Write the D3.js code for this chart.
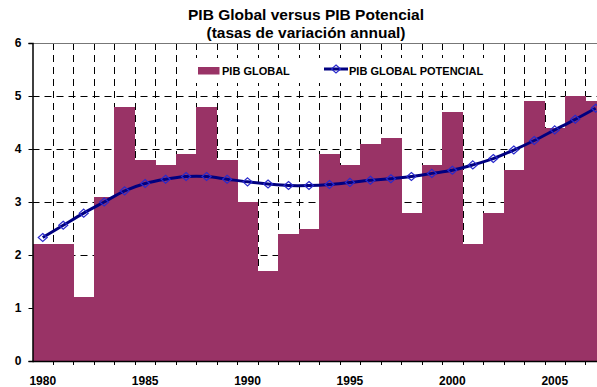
<!DOCTYPE html>
<html>
<head>
<meta charset="utf-8">
<script src="https://cdn.jsdelivr.net/npm/d3@7"></script>
<style>
  html, body { margin: 0; padding: 0; background: #fff; }
  svg { display: block; font-family: "Liberation Sans", Arial, sans-serif; }
</style>
</head>
<body>
<svg id="chart" width="597" height="387"></svg>
<script>
// Annual GDP growth vs potential GDP growth (%)
const years = [1980, 1981, 1982, 1983, 1984, 1985, 1986, 1987, 1988, 1989,
               1990, 1991, 1992, 1993, 1994, 1995, 1996, 1997, 1998, 1999,
               2000, 2001, 2002, 2003, 2004, 2005, 2006, 2007];
const pibGlobal = [2.2, 2.2, 1.2, 3.1, 4.8, 3.8, 3.7, 3.9, 4.8, 3.8,
                   3.0, 1.7, 2.4, 2.5, 3.9, 3.7, 4.1, 4.2, 2.8, 3.7,
                   4.7, 2.2, 2.8, 3.6, 4.9, 4.4, 5.0, 4.9];
const pibPotencial = [2.33, 2.56, 2.79, 3.0, 3.21, 3.35, 3.43, 3.48, 3.48, 3.43,
                      3.38, 3.34, 3.31, 3.31, 3.33, 3.37, 3.41, 3.44, 3.48, 3.54,
                      3.60, 3.70, 3.82, 3.98, 4.16, 4.36, 4.56, 4.77];
const yTicks = [0, 1, 2, 3, 4, 5, 6];
const labelYears = [1980, 1985, 1990, 1995, 2000, 2005];
const seriesNames = ["PIB GLOBAL", "PIB GLOBAL POTENCIAL"];
const titleLines = ["PIB Global versus PIB Potencial", "(tasas de variación annual)"];

const barColor = "#993366";
const lineColor = "#000080";
const markerColor = "#2a2acc";

// Open diamond marker, a little wider than tall
const diamond = "M0,-4L4.5,0L0,4L-4.5,0Z";

const svg = d3.select("#chart");
const plot = { left: 32.5, top: 43, bottom: 361, step: 20.48 };

const x = d3.scaleBand()
  .domain(years)
  .range([plot.left, plot.left + plot.step * years.length])
  .padding(0);
const y = d3.scaleLinear().domain([0, 6]).range([plot.bottom, plot.top]);
const xRight = plot.left + plot.step * years.length;

// Title
svg.append("g").selectAll("text")
  .data(titleLines)
  .join("text")
  .attr("x", 306)
  .attr("y", (d, i) => 20 + i * 18)
  .attr("text-anchor", "middle")
  .attr("font-size", 15.5)
  .attr("font-weight", "bold")
  .attr("fill", "#000")
  .text(d => d);

// Gridlines (dashed), behind the bars
const grid = svg.append("g").attr("stroke", "#000").attr("stroke-width", 1)
  .attr("stroke-dasharray", "7,5");
grid.selectAll("line.v")
  .data(years.slice(1))
  .join("line")
  .attr("class", "v")
  .attr("x1", d => Math.round(x(d)) + 0.5)
  .attr("x2", d => Math.round(x(d)) + 0.5)
  .attr("y1", plot.top)
  .attr("y2", plot.bottom);
grid.selectAll("line.h")
  .data(yTicks.filter(t => t > 0 && t < 6))
  .join("line")
  .attr("class", "h")
  .attr("x1", plot.left)
  .attr("x2", xRight)
  .attr("y1", d => Math.round(y(d)) + 0.5)
  .attr("y2", d => Math.round(y(d)) + 0.5);

// Top border of plot area
svg.append("line")
  .attr("x1", plot.left).attr("x2", xRight)
  .attr("y1", plot.top + 0.5).attr("y2", plot.top + 0.5)
  .attr("stroke", "#777").attr("stroke-width", 1);

// Legend box (white background covers the grid)
const legend = svg.append("g");
legend.append("rect")
  .attr("x", 188).attr("y", 58).attr("width", 312).attr("height", 25)
  .attr("fill", "#fff");
legend.append("rect")
  .attr("x", 198).attr("y", 67).attr("width", 21.5).attr("height", 7.5)
  .attr("fill", barColor);
legend.append("text")
  .attr("x", 222).attr("y", 75)
  .attr("font-size", 11).attr("font-weight", "bold")
  .text(seriesNames[0]);
legend.append("line")
  .attr("x1", 324).attr("x2", 348).attr("y1", 69).attr("y2", 69)
  .attr("stroke", lineColor).attr("stroke-width", 3);
legend.append("path")
  .attr("d", diamond)
  .attr("transform", "translate(336,69)")
  .attr("fill", "none").attr("stroke", markerColor).attr("stroke-width", 1.2);
legend.append("text")
  .attr("x", 349).attr("y", 75)
  .attr("font-size", 11).attr("font-weight", "bold")
  .text(seriesNames[1]);

// Bars
svg.append("g").selectAll("rect")
  .data(years.map((yr, i) => ({ yr, v: pibGlobal[i] })))
  .join("rect")
  .attr("x", d => x(d.yr))
  .attr("width", x.bandwidth() + 0.4)
  .attr("y", d => y(d.v))
  .attr("height", d => y(0) - y(d.v))
  .attr("fill", barColor)
  .attr("shape-rendering", "crispEdges");

// Potential GDP line
const pts = years.map((yr, i) => ({ yr, v: pibPotencial[i] }));
const line = d3.line()
  .x(d => x(d.yr) + x.bandwidth() / 2)
  .y(d => y(d.v))
  .curve(d3.curveCatmullRom.alpha(0.5));
svg.append("path")
  .datum(pts)
  .attr("d", line)
  .attr("fill", "none")
  .attr("stroke", lineColor)
  .attr("stroke-width", 3);
svg.append("g").selectAll("path")
  .data(pts)
  .join("path")
  .attr("d", diamond)
  .attr("transform", d => `translate(${x(d.yr) + x.bandwidth() / 2},${y(d.v)})`)
  .attr("fill", "none")
  .attr("stroke", markerColor)
  .attr("stroke-width", 1.2);

// Y axis
const yAxis = svg.append("g")
  .attr("transform", `translate(${plot.left},0)`)
  .call(d3.axisLeft(y).tickValues(yTicks).tickSize(4).tickPadding(7).tickFormat(d3.format("d")));
yAxis.select(".domain").attr("stroke", "#000").attr("stroke-width", 1.5);
yAxis.selectAll("text").attr("font-size", 12).attr("font-weight", "bold")
  .attr("font-family", "'Liberation Sans', Arial, sans-serif").attr("fill", "#000");

// X axis: ticks at category boundaries, labels every five years
const xAxisG = svg.append("g").attr("transform", `translate(0,${plot.bottom})`);
xAxisG.append("line")
  .attr("x1", plot.left).attr("x2", xRight)
  .attr("y1", 0.5).attr("y2", 0.5)
  .attr("stroke", "#000").attr("stroke-width", 1.5);
xAxisG.selectAll("line.tick")
  .data(years.slice(1))
  .join("line")
  .attr("class", "tick")
  .attr("x1", d => Math.round(x(d)) + 0.5)
  .attr("x2", d => Math.round(x(d)) + 0.5)
  .attr("y1", 0).attr("y2", 4)
  .attr("stroke", "#000");
xAxisG.selectAll("text")
  .data(labelYears)
  .join("text")
  .attr("x", d => x(d) + x.bandwidth() / 2)
  .attr("y", 24)
  .attr("text-anchor", "middle")
  .attr("font-size", 12)
  .attr("font-weight", "bold")
  .text(d => d);
</script>
</body>
</html>
